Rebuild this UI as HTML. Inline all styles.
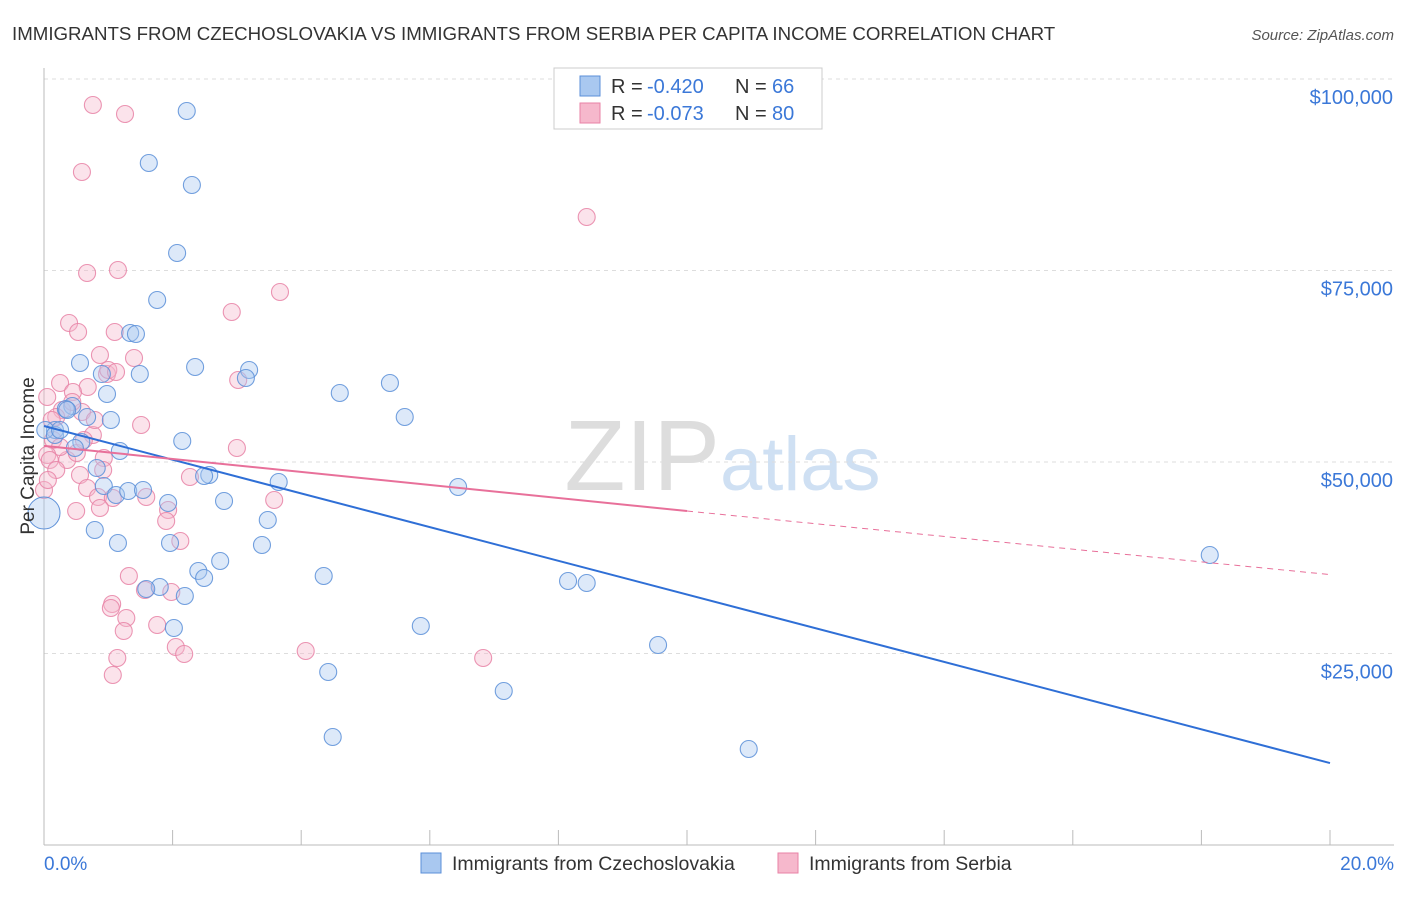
<!DOCTYPE html>
<html><head><meta charset="utf-8"><style>
body{margin:0;background:#fff;font-family:"Liberation Sans",sans-serif}
svg text{font-family:"Liberation Sans",sans-serif}
</style></head><body>
<svg id="chart" width="1406" height="892">
<text x="12" y="40" font-size="18.7" fill="#333">IMMIGRANTS FROM CZECHOSLOVAKIA VS IMMIGRANTS FROM SERBIA PER CAPITA INCOME CORRELATION CHART</text>
<text x="1394" y="40" font-size="15" fill="#555" font-style="italic" text-anchor="end">Source: ZipAtlas.com</text>
<text x="720" y="490" font-size="100" fill="#ddd" text-anchor="end" font-family="Liberation Serif">ZIP</text>
<text x="720" y="490" font-size="76" fill="#cfe0f3">atlas</text>
<g id="grid"></g><g id="axes"></g><g id="pts"></g><g id="lines"></g>
<text x="34" y="456" font-size="19" fill="#333" text-anchor="middle" transform="rotate(-90 34 456)">Per Capita Income</text>
<text x="44" y="870" font-size="19" fill="#3b78d8">0.0%</text>
<text x="1394" y="870" font-size="19" fill="#3b78d8" text-anchor="end">20.0%</text>
<g>
<rect x="554" y="68" width="268" height="61" fill="#fff" stroke="#ccc"/>
<rect x="580" y="76" width="20" height="20" fill="#a9c8f0" stroke="#5b8fd8"/>
<rect x="580" y="103" width="20" height="20" fill="#f6b8cc" stroke="#e882a6"/>
<text x="611" y="93" font-size="20" fill="#333">R = </text>
<text x="647" y="93" font-size="20" fill="#3b78d8">-0.420</text>
<text x="735" y="93" font-size="20" fill="#333">N = </text>
<text x="772" y="93" font-size="20" fill="#3b78d8">66</text>
<text x="611" y="120" font-size="20" fill="#333">R = </text>
<text x="647" y="120" font-size="20" fill="#3b78d8">-0.073</text>
<text x="735" y="120" font-size="20" fill="#333">N = </text>
<text x="772" y="120" font-size="20" fill="#3b78d8">80</text>
</g>
<g>
<rect x="421" y="853" width="20" height="20" fill="#a9c8f0" stroke="#5b8fd8"/>
<text x="452" y="870" font-size="19.5" fill="#333">Immigrants from Czechoslovakia</text>
<rect x="778" y="853" width="20" height="20" fill="#f6b8cc" stroke="#e882a6"/>
<text x="809" y="870" font-size="19.5" fill="#333">Immigrants from Serbia</text>
</g>
</svg>
<script>
const yTicks=[25000,50000,75000,100000];
const yTickLabels=["$25,000","$50,000","$75,000","$100,000"];
const xTicks=[0,2,4,6,8,10,12,14,16,18,20];
const bluePx=[[187,111],[149,163],[192,185],[177,253],[157,300],[130,333],[136,334],[80,363],[195,367],[249,370],[140,374],[246,378],[102,374],[390,383],[340,393],[107,394],[72,406],[66,409],[87,417],[111,420],[405,417],[55,430],[182,441],[81,442],[120,451],[75,448],[97,468],[209,475],[204,476],[279,482],[458,487],[104,486],[116,495],[128,491],[143,490],[168,503],[224,501],[268,520],[95,530],[118,543],[170,543],[262,545],[220,561],[198,571],[204,578],[324,576],[568,581],[587,583],[160,587],[146,589],[185,596],[421,626],[174,628],[658,645],[328,672],[504,691],[333,737],[749,749],[1210,555],[45,430],[55,435],[67,410],[60,430]];
const pinkPx=[[93,105],[125,114],[82,172],[587,217],[118,270],[87,273],[280,292],[232,312],[69,323],[78,332],[115,332],[100,355],[134,358],[107,374],[108,370],[238,380],[60,383],[88,387],[73,392],[47,397],[62,410],[56,417],[82,412],[141,425],[93,435],[53,440],[237,448],[67,460],[104,458],[60,447],[77,453],[47,455],[190,477],[103,470],[80,475],[87,488],[98,497],[146,497],[274,500],[113,498],[100,508],[76,511],[168,510],[166,521],[180,541],[129,576],[112,604],[111,608],[145,590],[126,618],[171,592],[157,625],[124,631],[176,647],[184,654],[306,651],[483,658],[117,658],[113,675],[44,490],[50,460],[56,470],[48,480],[95,420],[72,402],[84,440],[116,372],[52,420]];
const blueX=bluePx.map(p=>+((p[0]-44)/1286*20).toFixed(2));
const blueY=bluePx.map(p=>Math.round((845-p[1])/191.5*25000));
const pinkX=pinkPx.map(p=>+((p[0]-44)/1286*20).toFixed(2));
const pinkY=pinkPx.map(p=>Math.round((845-p[1])/191.5*25000));
const blueTrend=[[0,54700],[20,10700]];
const pinkTrend=[[0,52100],[10,43600],[20,35300]];
const xs=v=>44+v/20*1286, ys=v=>845-v/25000*191.5;
const NS="http://www.w3.org/2000/svg";
function mk(t,a,p){const e=document.createElementNS(NS,t);for(const k in a)e.setAttribute(k,a[k]);document.getElementById(p).appendChild(e);return e;}
yTicks.forEach((t,i)=>{
 const l=mk('line',{x1:44,x2:1394,y1:ys(t),y2:ys(t),stroke:'#ddd','stroke-dasharray':'4,4'},'grid');
 
 
 const tx=mk('text',{x:1393,y:ys(t)+25,'font-size':20,fill:'#3b78d8','text-anchor':'end'},'grid');tx.textContent=yTickLabels[i];
 
 
});
mk('line',{x1:44,x2:44,y1:68,y2:845,stroke:'#bbb'},'axes');
mk('line',{x1:44,x2:1394,y1:845,y2:845,stroke:'#bbb'},'axes');
xTicks.forEach(t=>{const l=mk('line',{x1:xs(t),x2:xs(t),y1:830,y2:845,stroke:'#bbb'},'axes');
 
 });
function dots(X,Y,f,s,n){X.forEach((x,i)=>{const c=mk('circle',{cx:xs(x),cy:ys(Y[i]),r:8.5,fill:f,'fill-opacity':0.4,stroke:s,'stroke-width':1.1,'stroke-opacity':0.85},'pts');
 
 });}
dots(pinkX,pinkY,'#f6b8cc','#e882a6','serbia-point');
dots(blueX,blueY,'#a9c8f0','#5b8fd8','czechoslovakia-point');
const big=mk('circle',{cx:44,cy:513,r:16,fill:'#a9c8f0','fill-opacity':0.4,stroke:'#5b8fd8'},'pts');


const bl=mk('line',{x1:xs(blueTrend[0][0]),y1:ys(blueTrend[0][1]),x2:xs(blueTrend[1][0]),y2:ys(blueTrend[1][1]),stroke:'#2f6fd6','stroke-width':2},'lines');


const pl=mk('line',{x1:xs(pinkTrend[0][0]),y1:ys(pinkTrend[0][1]),x2:xs(pinkTrend[1][0]),y2:ys(pinkTrend[1][1]),stroke:'#e8709a','stroke-width':2},'lines');


const pd=mk('line',{x1:xs(pinkTrend[1][0]),y1:ys(pinkTrend[1][1]),x2:xs(pinkTrend[2][0]),y2:ys(pinkTrend[2][1]),stroke:'#e8709a','stroke-width':1,'stroke-dasharray':'6,5'},'lines');


</script>
</body></html>
